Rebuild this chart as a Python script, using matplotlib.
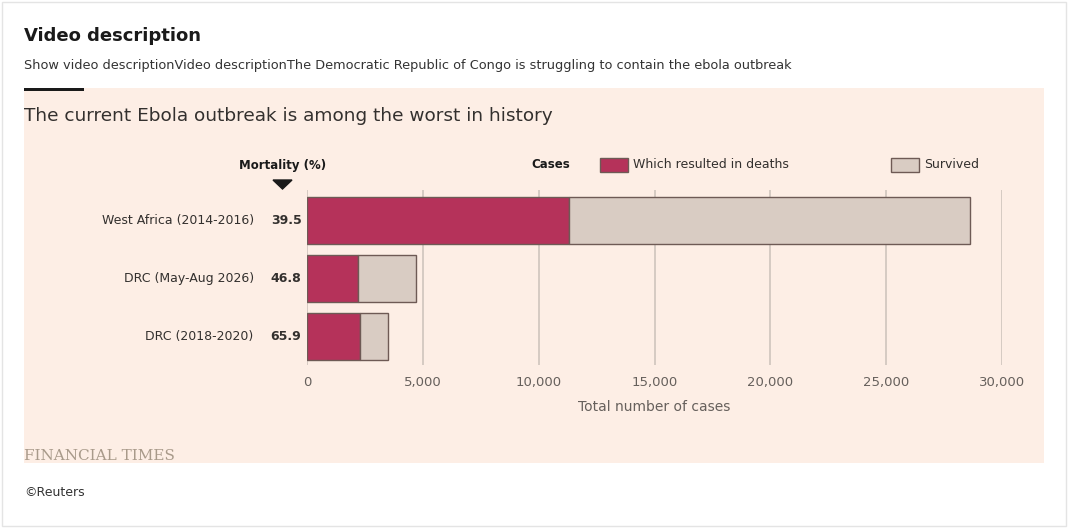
import matplotlib.pyplot as plt
from matplotlib.patches import Rectangle, Polygon

outbreaks = ["West Africa (2014-2016)", "DRC (May-Aug 2026)", "DRC (2018-2020)"]
mortality = ["39.5", "46.8", "65.9"]
deaths = [11300, 2200, 2290]
totals = [28600, 4700, 3480]
survived = [t - d for t, d in zip(totals, deaths)]
ticks = [0, 5000, 10000, 15000, 20000, 25000, 30000]

W, H = 1068, 528
fig = plt.figure(figsize=(W / 100, H / 100), dpi=100)
fig.patch.set_facecolor("white")

def fx(px):
    return px / W

def fy(py):
    return 1 - py / H

# outer border and panel (behind the axes)
fig.add_artist(Rectangle((fx(2), fy(526)), fx(1064), 1 - 4 / H, transform=fig.transFigure,
                         fill=False, edgecolor="#e4e4e4", lw=1, zorder=-2))
fig.add_artist(Rectangle((fx(24), fy(463)), fx(1020), 375 / H, transform=fig.transFigure,
                         facecolor="#fdeee5", edgecolor="none", zorder=-1))
fig.add_artist(Rectangle((fx(24), fy(91)), fx(60), 3 / H, transform=fig.transFigure,
                         facecolor="#1a1a1a", edgecolor="none"))

fig.text(fx(24), fy(36), "Video description", fontsize=13, fontweight="bold", va="center", color="#1a1a1a")
fig.text(fx(24), fy(65), "Show video descriptionVideo descriptionThe Democratic Republic of Congo is struggling to contain the ebola outbreak",
         fontsize=9.3, va="center", color="#333333")
fig.text(fx(24), fy(116), "The current Ebola outbreak is among the worst in history", fontsize=13.3, va="center", color="#33302e")
fig.text(fx(24), fy(456), "FINANCIAL TIMES", fontsize=11, family="DejaVu Serif", va="center", color="#a89a8a")
fig.text(fx(24), fy(492), "©Reuters", fontsize=9, va="center", color="#333333")

ax = fig.add_axes([fx(307), fy(365), fx(1002 - 307), 175 / H])
ax.set_facecolor("none")
y = list(range(len(outbreaks)))
ax.barh(y, deaths, height=0.81, color="#b5325a", edgecolor="#6e5a55", lw=1, zorder=3)
ax.barh(y, survived, left=deaths, height=0.81, color="#d9ccc3", edgecolor="#6e5a55", lw=1, zorder=3)
ax.set_xlim(0, 30000)
ax.set_ylim(2.49, -0.526)
ax.set_xticks(ticks)
ax.set_xticklabels([f"{t:,}" for t in ticks], fontsize=9.5, color="#66605c")
ax.grid(axis="x", color="#cfc4bd", lw=1.2, zorder=0)
ax.tick_params(axis="x", length=0, pad=8)
ax.set_yticks([])
for s in ax.spines.values():
    s.set_visible(False)
ax.set_xlabel("Total number of cases", fontsize=10, color="#66605c", labelpad=8)

for i, (name, m) in enumerate(zip(outbreaks, mortality)):
    ax.text(-240, i, m, ha="right", va="center", fontsize=9, fontweight="bold", color="#33302e",
            transform=ax.transData)
    ax.text(-2300, i, name, ha="right", va="center", fontsize=9, color="#33302e")

# legend / header
fig.text(fx(283), fy(165), "Mortality (%)", ha="center", va="center", fontsize=8.5, fontweight="bold", color="#1a1a1a")
fig.add_artist(Polygon([(fx(273), fy(180)), (fx(292), fy(180)), (fx(282.5), fy(189))],
                       transform=fig.transFigure, color="#1a1a1a"))
fig.text(fx(570), fy(165), "Cases", ha="right", va="center", fontsize=8.5, fontweight="bold", color="#1a1a1a")
fig.add_artist(Rectangle((fx(600), fy(172)), fx(28), 14 / H, transform=fig.transFigure,
                         facecolor="#b5325a", edgecolor="#6e5a55", lw=1))
fig.text(fx(633), fy(165), "Which resulted in deaths", va="center", fontsize=9, color="#33302e")
fig.add_artist(Rectangle((fx(891), fy(172)), fx(28), 14 / H, transform=fig.transFigure,
                         facecolor="#d9ccc3", edgecolor="#6e5a55", lw=1))
fig.text(fx(924), fy(165), "Survived", va="center", fontsize=9, color="#33302e")

fig.savefig("out.png", dpi=100)
